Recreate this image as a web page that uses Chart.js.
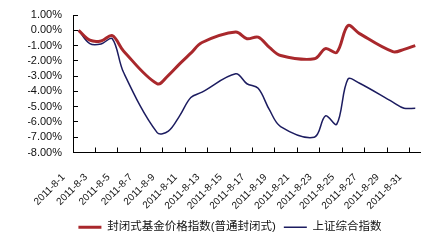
<!DOCTYPE html>
<html>
<head>
<meta charset="utf-8">
<script src="https://cdn.jsdelivr.net/npm/chart.js@4.4.1/dist/chart.umd.min.js"></script>
<style>
  html, body { margin: 0; padding: 0; background: #fff; }
</style>
</head>
<body>
<canvas id="fundChart" width="448" height="240"></canvas>
<script>
// 2011年8月, weekends are null (line spans the gaps)
const days = [
    "2011-8-1", "2011-8-2", "2011-8-3", "2011-8-4", "2011-8-5", "2011-8-6", "2011-8-7",
    "2011-8-8", "2011-8-9", "2011-8-10", "2011-8-11", "2011-8-12", "2011-8-13", "2011-8-14",
    "2011-8-15", "2011-8-16", "2011-8-17", "2011-8-18", "2011-8-19", "2011-8-20", "2011-8-21",
    "2011-8-22", "2011-8-23", "2011-8-24", "2011-8-25", "2011-8-26", "2011-8-27", "2011-8-28",
    "2011-8-29", "2011-8-30", "2011-8-31"
];

const closedFund = [0, -0.65, -0.7, -0.35, -1.35, null, null,
    -3.5, -2.95, -2.2, -1.5, -0.8, null, null,
    -0.12, -0.55, -0.45, -1.12, -1.65, null, null,
    -1.87, -1.2, -1.45, 0.3, -0.2, null, null,
    -1.4, -1.25, -1.0];

const shIndex = [0, -0.88, -0.9, -0.55, -2.75, null, null,
    -6.7, -6.6, -5.6, -4.4, -4.05, null, null,
    -2.85, -3.5, -3.8, -5.2, -6.3, null, null,
    -7.0, -5.6, -6.15, -3.2, -3.45, null, null,
    -4.7, -5.1, -5.1];

const seriesNames = ["封闭式基金价格指数(普通封闭式)", "上证综合指数"];

const fontFamily = "'Liberation Sans', Arial, 'Noto Sans CJK SC', sans-serif";

new Chart(document.getElementById("fundChart"), {
    type: "line",
    data: {
        labels: days,
        datasets: [{
            label: seriesNames[0],
            data: closedFund,
            borderColor: "#a9282c",
            backgroundColor: "#a9282c",
            borderWidth: 3,
            pointRadius: 0,
            tension: 0.35,
            spanGaps: true
        }, {
            label: seriesNames[1],
            data: shIndex,
            borderColor: "#1c1c60",
            backgroundColor: "#1c1c60",
            borderWidth: 1.5,
            pointRadius: 0,
            tension: 0.35,
            spanGaps: true
        }]
    },
    options: {
        responsive: false,
        animation: false,
        layout: { padding: { left: 28, right: 16, top: 15, bottom: -3 } },
        plugins: {
            tooltip: { enabled: false },
            legend: {
                position: "bottom",
                labels: {
                    usePointStyle: true,
                    pointStyle: "line",
                    pointStyleWidth: 23,
                    color: "#111",
                    padding: 8,
                    font: { family: fontFamily, size: 11.5 }
                }
            }
        },
        scales: {
            x: {
                offset: true,
                afterFit: scale => { scale.height = 61; },
                grid: {
                    offset: true,
                    drawOnChartArea: false,
                    tickLength: -5,
                    tickColor: ctx => (ctx.index % 2 === 0 ? "#000" : "rgba(0,0,0,0)")
                },
                border: { display: true, color: "#000", width: 1 },
                ticks: {
                    autoSkip: false,
                    minRotation: 45,
                    maxRotation: 45,
                    labelOffset: -15,
                    padding: 24,
                    color: "#111",
                    font: { family: fontFamily, size: 10 },
                    callback: function (val, i) {
                        return i % 2 === 0 ? this.getLabelForValue(val) : "";
                    }
                }
            },
            y: {
                min: -8,
                max: 1,
                // labels sit far from the axis; don't let that padding push the plot down
                afterFit: scale => { scale.width = 45; scale.paddingTop = 0; },
                grid: {
                    drawOnChartArea: false,
                    tickLength: -5,
                    tickColor: "#000"
                },
                border: { display: true, color: "#000", width: 1 },
                ticks: {
                    stepSize: 1,
                    autoSkip: false,
                    padding: 16,
                    color: "#111",
                    font: { family: fontFamily, size: 11 },
                    callback: v => v.toFixed(2) + "%"
                }
            }
        }
    }
});
</script>
</body>
</html>
